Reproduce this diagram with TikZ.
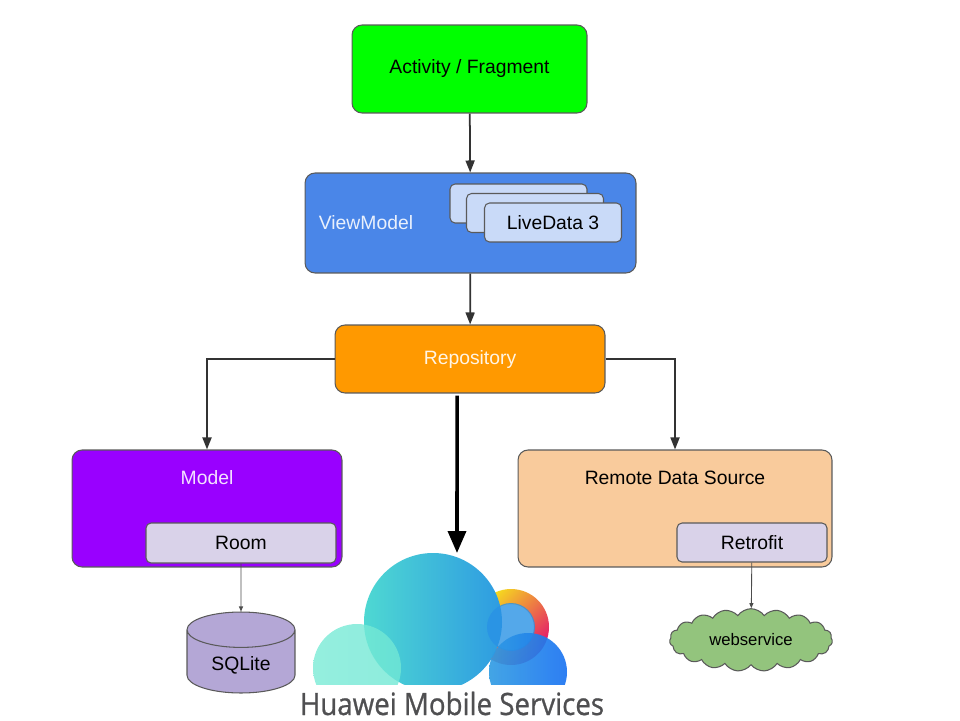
\documentclass[tikz,border=0pt]{standalone}
\usepackage{fontspec}
\setmainfont{Liberation Sans}
\newfontfamily\hmsfont[FakeStretch=0.9,FakeBold=0.8]{Open Sans}
\usepackage{tikz}
\usetikzlibrary{arrows.meta}
\usetikzlibrary{shapes.geometric,shapes.symbols}
\definecolor{actgreen}{HTML}{00FF00}
\definecolor{vmblue}{HTML}{4A86E8}
\definecolor{ldblue}{HTML}{C9DAF8}
\definecolor{repoorange}{HTML}{FF9900}
\definecolor{modelpurple}{HTML}{9900FF}
\definecolor{roomlilac}{HTML}{D9D2E9}
\definecolor{sqlpurple}{HTML}{B4A7D6}
\definecolor{remotepeach}{HTML}{F9CB9C}
\definecolor{webgreen}{HTML}{93C47D}
\definecolor{edgegray}{HTML}{5A5A5A}
\definecolor{hmsgray}{HTML}{4F4F51}
\definecolor{hmsyellow}{HTML}{F6E01C}
\definecolor{hmspink}{HTML}{E3136E}
\definecolor{hmsteal}{HTML}{4ED8D2}
\definecolor{hmssky}{HTML}{2E9BE2}
\definecolor{hmsmint}{HTML}{7AEBD6}
\definecolor{hmsblue}{HTML}{1670F2}
\tikzstyle{layerbox}=[draw=edgegray, line width=0.6pt, rounded corners=0.2cm, font=\fontsize{11}{13}\selectfont]
\tikzstyle{innerbox}=[draw=edgegray, line width=0.6pt, rounded corners=0.1cm, fill=roomlilac, font=\fontsize{11}{13}\selectfont]
\tikzstyle{lvbox}=[innerbox, fill=ldblue, minimum width=2.74cm, minimum height=0.78cm]
\tikzstyle{boxtext}=[font=\fontsize{11}{13}\selectfont]
\tikzstyle{conn}=[draw=black!80, line width=1pt, -{Triangle[length=0.24cm,width=0.18cm]}]
\tikzstyle{thinconn}=[draw=black!70, line width=0.5pt, -{Triangle[length=0.1cm,width=0.08cm]}]
\tikzstyle{puff}=[opacity=0.8]

\begin{document}
\begin{tikzpicture}[x=0.02cm,y=-0.02cm]
	\useasboundingbox (0,0) rectangle (960,720);
	% layers
	\node[layerbox, fill=actgreen, minimum width=4.7cm, minimum height=1.76cm] (act) at (469.5,69) {Activity / Fragment};
	\node[layerbox, fill=vmblue, minimum width=6.62cm, minimum height=2cm] (vm) at (470.5,223) {};
	\node[boxtext, text=white!88!vmblue] (vmtxt) at (366,223) {ViewModel};
	\node[lvbox] (lv1) at (518.5,203.5) {};
	\node[lvbox] (lv2) at (535,213) {};
	\node[lvbox] (lv3) at (553,222.5) {LiveData 3};
	\node[layerbox, fill=repoorange, text=white!90!repoorange, minimum width=5.4cm, minimum height=1.36cm] (repo) at (470,359) {Repository};
	\node[layerbox, fill=modelpurple, minimum width=5.4cm, minimum height=2.34cm] (model) at (207,508.5) {};
	\node[boxtext, text=white!88!modelpurple] (modeltxt) at (207,478) {Model};
	\node[innerbox, minimum width=3.8cm, minimum height=0.8cm] (room) at (241,543) {Room};
	\node[layerbox, fill=remotepeach, minimum width=6.28cm, minimum height=2.34cm] (remote) at (675,508.5) {};
	\node[boxtext] (remotetxt) at (675,478) {Remote Data Source};
	\node[innerbox, minimum width=3cm, minimum height=0.78cm] (retro) at (752,542.5) {Retrofit};
	\node[cylinder, shape border rotate=90, aspect=0.5, draw=edgegray, line width=0.6pt, fill=sqlpurple, minimum width=2.16cm, minimum height=1.62cm, anchor=shape center, boxtext] (sql) at (241,652.5) {SQLite};
	\node[cloud, cloud puffs=19, cloud puff arc=110, aspect=2.6, draw=edgegray, line width=0.6pt, fill=webgreen, minimum width=3.26cm, minimum height=1.24cm, font=\fontsize{9.5}{11}\selectfont] (web) at (751,640) {webservice};
	% Huawei Mobile Services logo
	\begin{scope}
		\clip (290,540) rectangle (600,684);
		\shade[even odd rule, top color=hmsyellow, bottom color=hmspink, shading angle=45] (511,627) circle (38) (511,627) circle (23);
		\shade[left color=hmsteal, right color=hmssky] (433,622) circle (69);
		\fill[puff, color=hmssky!80!hmsblue] (511,627) circle (24);
		\shade[puff, left color=hmsmint, right color=hmsmint!80!hmsteal] (357,668) circle (44);
		\shade[opacity=0.9, left color=hmssky, right color=hmsblue] (528,672) circle (39);
	\end{scope}
	\coordinate (hmstop) at (457,553);
	\node[anchor=base, text=hmsgray, font=\hmsfont\fontsize{17.5}{20}\selectfont] (hms) at (452,715) {Huawei Mobile Services};
	% connectors
	\draw[conn] (act) -- (vm);
	\draw[conn] (vm) -- (repo);
	\draw[conn] (repo.west) -| (model.north);
	\draw[conn] (repo.east) -| (remote.north);
	\draw[draw=black, line width=2pt, -{Triangle[length=0.44cm,width=0.36cm]}] ([xshift=-0.26cm,yshift=-0.04cm]repo.south) -- (hmstop);
	\draw[thinconn] (room) -- (sql);
	\draw[thinconn] (retro) -- (web);
\end{tikzpicture}
\end{document}
